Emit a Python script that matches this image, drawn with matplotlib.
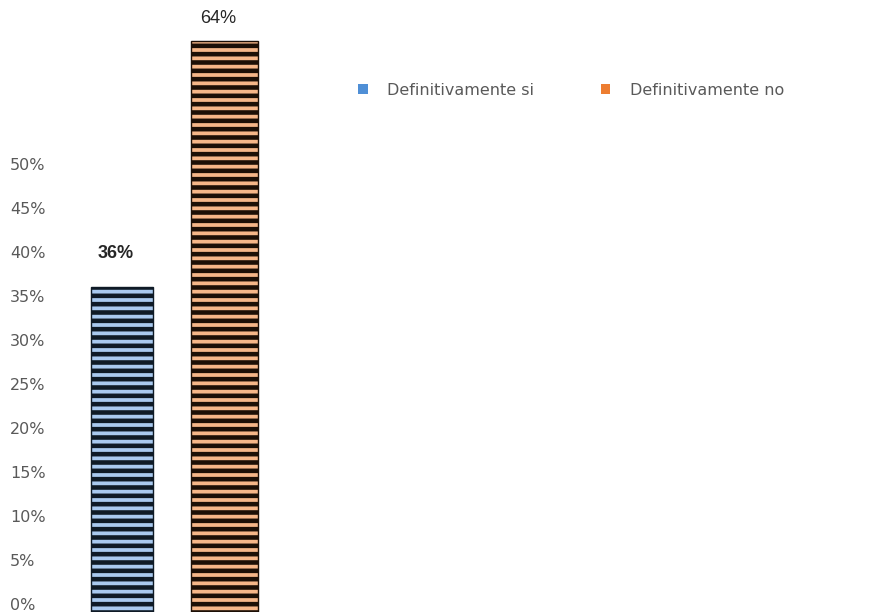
import matplotlib
matplotlib.use('Agg')
import matplotlib.pyplot as plt
from matplotlib.patches import Patch
import numpy as np

# data
categories = ['Definitivamente si', 'Definitivamente no']
values = [0.36, 0.64]
labels = ['36%', '64%']
label_bold = [True, False]
ticks = np.arange(0, 0.51, 0.05)

face = ['#a9c9ef', '#f6b688']
dark = ['#0f1a26', '#1c0f06']
legend_cols = ['#4f8fd6', '#ed7d31']

plt.rcParams['hatch.linewidth'] = 3.3
plt.rcParams['font.family'] = 'DejaVu Sans'

fig = plt.figure(figsize=(8.7, 6.12), dpi=100)
ax = fig.add_axes([60 / 870, 0, 800 / 870, 1])

ymin, ymax = -8 / 880, 604 / 880
x = np.arange(len(values)) * 1.0
widths = [0.61, 0.66]
for i in range(len(values)):
    ax.bar(x[i], values[i] - ymin, bottom=ymin, width=widths[i],
           color=face[i], edgecolor=dark[i], hatch='--', linewidth=1.0)
    ax.annotate(labels[i], (x[i] - 0.06, values[i]), xytext=(0, 24 if i == 0 else 16),
                textcoords='offset points', ha='center', va='center',
                fontsize=13, color='#262626', family='Liberation Sans',
                fontweight='bold' if label_bold[i] else 'normal')

ax.set_ylim(ymin, ymax)
ax.set_xlim(-0.61, -0.61 + 800 / 102)
ax.set_yticks(ticks)
ax.set_yticklabels(['{:.0f}%'.format(t * 100) for t in ticks], color='#595959', fontsize=11.5)
ax.tick_params(axis='y', length=0, pad=36)
for lab in ax.get_yticklabels():
    lab.set_ha('left')
ax.set_xticks([])
for s in ax.spines.values():
    s.set_visible(False)

handles = [Patch(facecolor=c, edgecolor='none') for c in legend_cols]
fig.legend(handles, categories, loc='upper left', bbox_to_anchor=(0.395, 0.888),
           bbox_transform=fig.transFigure, ncol=2, frameon=False,
           handlelength=0.6, handleheight=0.6, handletextpad=1.2, columnspacing=4.2,
           labelcolor='#595959', fontsize=11.5)

fig.savefig('out.png', dpi=100)
